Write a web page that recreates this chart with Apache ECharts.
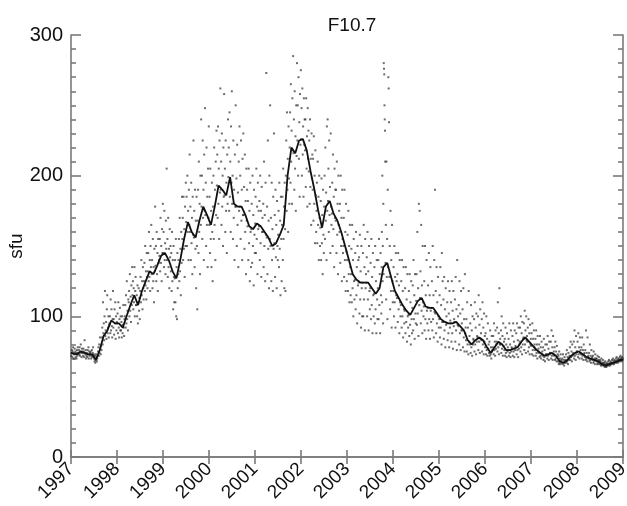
<!DOCTYPE html>
<html><head><meta charset="utf-8">
<script src="https://cdn.jsdelivr.net/npm/echarts@6/dist/echarts.min.js"></script>
<style>html,body{margin:0;padding:0;background:#fff}#c{width:627px;height:506px}</style>
</head><body><div id="c"></div>
<script>
// Smoothed F10.7, monthly (mid-month) values, 1997..2008
const lineYears = [1997,1998,1999,2000,2001,2002,2003,2004,2005,2006,2007,2008];
const line1997 = [74,73,75,74,73,73,69,76,86,90,97,95];
const line1998 = [95,92,100,108,115,108,118,125,132,130,136,143];
const line1999 = [145,140,132,127,140,155,167,160,156,168,178,172];
const line2000 = [165,178,193,190,186,199,180,178,178,172,164,162];
const line2001 = [166,164,160,156,150,152,158,165,200,220,216,225];
const line2002 = [226,218,203,190,175,163,178,182,173,168,160,150];
const line2003 = [140,130,126,124,124,124,120,116,120,135,138,128];
const line2004 = [118,113,108,104,101,106,111,113,107,106,106,102];
const line2005 = [98,96,95,95,96,93,90,83,80,83,85,83];
const line2006 = [78,74,78,82,80,76,76,77,78,82,85,82];
const line2007 = [79,76,74,72,73,74,72,68,67,69,72,74];
const line2008 = [75,73,71,70,69,68,66,65,66,67,68,69];
const lineStart = 74, lineEnd = 69;

// Daily values (sampled), grouped by month
const dots1997 = [[72,74,76,71,75,78,73,70,74,77],[73,75,71,74,70,76,72,78,74,73],[76,73,78,72,75,80,74,71,77,75],[74,72,77,75,71,83,74,73,76,70],[72,74,71,76,73,78,70,75,72,74],[73,75,70,72,76,71,74,78,72,73],[70,68,72,67,69,73,71,68,70,72],[75,78,72,80,74,85,77,73,79,76],[85,92,80,110,88,95,83,100,118,86],[90,96,84,105,115,88,92,100,85,94],[95,100,88,112,90,105,93,85,98,118],[92,98,87,105,95,110,84,100,90,96]];
const dots1998 = [[95,102,88,110,92,85,98,106,90,100],[90,96,85,100,88,94,108,92,86,98],[100,108,92,115,95,125,98,104,90,112],[110,118,100,130,104,114,96,122,108,135],[115,125,105,120,110,135,100,118,128,108],[108,115,100,122,95,110,120,104,113,98],[118,128,110,140,115,125,105,135,120,112],[125,138,118,150,122,132,112,145,128,120],[132,145,125,160,128,140,118,150,135,165],[130,140,120,155,125,135,110,148,132,178],[136,150,125,160,130,145,118,155,138,140],[143,155,132,170,138,150,125,162,145,180]];
const dots1999 = [[145,160,135,175,140,152,130,168,148,205],[140,155,128,170,135,148,120,162,142,150],[132,145,118,160,125,140,105,150,128,110],[127,140,110,155,100,135,98,145,120,130],[140,155,125,170,132,148,115,160,138,185],[155,170,140,185,148,162,128,178,150,195],[167,185,150,200,160,175,140,190,165,215],[160,178,140,195,152,170,130,185,158,225],[156,175,135,190,148,168,120,185,150,105],[168,190,145,210,160,180,130,200,165,240],[178,200,155,225,170,190,140,215,175,248],[172,195,150,220,165,185,135,205,170,235]];
const dots2000 = [[165,185,145,205,155,175,135,195,160,125],[178,200,155,220,165,190,140,210,172,232],[193,215,170,235,180,205,155,225,188,262],[190,210,165,230,178,200,150,220,185,258],[186,205,160,225,175,195,145,215,180,240],[199,220,175,245,185,210,160,235,195,260],[180,200,155,225,170,190,140,215,178,250],[178,198,150,222,165,188,135,210,175,235],[178,200,155,225,168,190,140,212,172,230],[172,192,148,215,160,182,130,205,168,190],[164,182,140,205,152,175,125,195,160,135],[162,180,138,200,150,172,122,190,158,145]];
const dots2001 = [[166,185,145,205,155,178,130,195,162,175],[164,182,140,200,152,175,128,192,160,170],[160,180,135,210,150,172,125,195,158,273],[156,178,130,225,148,168,120,200,155,250],[150,170,125,195,140,162,118,185,148,230],[152,172,128,190,142,165,120,182,150,140],[158,175,135,195,148,168,115,185,155,125],[165,185,140,205,155,178,120,195,162,118],[200,225,175,245,190,212,160,235,198,180],[220,245,195,265,210,232,180,255,218,285],[216,240,190,260,205,228,175,250,214,280],[225,250,200,270,212,238,185,258,222,275]];
const dots2002 = [[226,248,200,262,215,235,185,255,222,240],[218,240,192,255,205,228,178,248,212,232],[203,225,180,240,192,212,165,230,198,215],[190,212,168,228,180,200,152,218,186,160],[175,195,152,210,165,185,140,200,170,150],[163,182,140,198,152,172,130,190,158,145],[178,200,155,220,168,188,140,235,175,240],[182,205,160,225,172,192,145,230,178,165],[173,195,150,215,162,185,135,205,170,190],[168,190,145,210,158,180,130,200,165,175],[160,180,138,200,150,170,125,190,155,145],[150,170,128,190,140,160,118,180,146,125]];
const dots2003 = [[140,158,118,175,130,150,110,165,135,115],[130,148,110,165,120,140,100,155,125,112],[126,145,105,160,115,135,95,150,122,140],[124,142,102,158,112,132,92,150,120,100],[124,145,100,165,112,135,90,155,120,130],[124,142,100,160,112,132,90,150,118,105],[120,138,98,155,108,128,88,145,115,100],[116,135,95,150,105,125,88,140,112,98],[120,140,98,155,108,130,88,145,115,102],[135,160,110,200,125,150,95,180,130,280,276,272,250,240,232,210],[138,165,112,210,128,155,98,190,135,270,262,238],[128,150,105,175,118,140,92,165,125,110]];
const dots2004 = [[118,135,100,150,110,128,92,145,115,125],[113,130,96,145,105,122,88,140,110,100],[108,125,92,140,100,118,85,135,105,95],[104,120,88,135,96,112,82,130,100,92],[101,118,86,130,94,110,80,125,98,88],[106,122,90,140,98,115,84,130,102,95],[111,130,94,160,102,120,86,180,108,175],[113,132,95,165,104,122,88,150,110,100],[107,125,90,150,98,115,84,140,104,95],[106,122,90,145,98,115,84,135,104,96],[106,125,90,150,98,115,85,140,103,190],[102,118,88,135,95,110,82,128,100,92]];
const dots2005 = [[98,115,85,135,92,108,80,145,96,125],[96,112,84,128,90,105,78,120,94,100],[95,110,83,125,88,102,78,118,92,97],[95,110,82,125,88,104,77,118,93,98],[96,112,82,128,90,105,76,140,94,100],[93,108,80,125,88,102,76,118,90,95],[90,105,78,120,85,98,75,130,88,92],[83,98,75,110,80,92,73,118,82,86],[80,95,74,108,78,90,72,100,80,84],[83,98,75,110,80,92,73,102,82,86],[85,100,76,115,82,94,74,105,84,88],[83,98,75,110,80,92,73,102,82,86]];
const dots2006 = [[78,88,73,100,76,84,72,95,77,80],[74,82,72,90,73,78,70,86,75,76],[78,86,73,95,76,82,72,90,77,80],[82,92,75,110,78,88,73,120,80,84],[80,90,74,100,77,86,72,95,79,82],[76,84,72,92,74,80,71,88,75,78],[76,84,72,95,74,80,71,90,75,78],[77,86,72,95,75,82,71,90,76,79],[78,88,73,95,76,83,71,92,77,80],[82,92,75,100,78,88,73,96,80,84],[85,95,76,104,80,90,74,100,83,86],[82,92,75,98,78,88,73,94,80,84]];
const dots2007 = [[79,88,73,95,76,84,72,90,78,80],[76,84,72,90,74,80,70,86,75,77],[74,80,71,86,72,78,70,82,73,75],[72,78,69,84,71,76,68,80,72,73],[73,80,70,86,72,77,69,82,73,74],[74,82,70,90,72,78,69,86,73,75],[72,78,69,82,70,75,68,79,71,73],[68,72,66,75,67,70,66,73,68,69],[67,70,66,73,67,69,65,71,67,68],[69,73,67,76,68,71,66,74,69,70],[72,78,69,82,71,75,68,80,72,73],[74,82,70,90,72,78,69,86,73,75]];
const dots2008 = [[75,82,71,88,73,78,70,85,74,76],[73,78,70,85,72,76,69,80,73,74],[71,76,69,90,70,74,68,85,71,72],[70,74,68,80,69,72,67,76,70,71],[69,72,67,75,68,70,66,73,69,70],[68,70,66,72,67,69,66,71,68,69],[66,68,65,70,66,67,65,69,66,67],[65,67,64,68,65,66,64,67,65,66],[66,68,65,69,66,67,65,68,66,67],[67,69,66,70,67,68,66,69,67,68],[68,70,67,71,68,69,67,70,68,69],[69,71,68,72,69,70,68,71,69,70]];

const yTicks = [0,100,200,300];
const xTicks = [1997,1998,1999,2000,2001,2002,2003,2004,2005,2006,2007,2008,2009];

const lineByYear = [line1997,line1998,line1999,line2000,line2001,line2002,line2003,line2004,line2005,line2006,line2007,line2008];
const dotsByYear = [dots1997,dots1998,dots1999,dots2000,dots2001,dots2002,dots2003,dots2004,dots2005,dots2006,dots2007,dots2008];

const lineData = [[xTicks[0], lineStart]];
lineByYear.forEach((arr, yi) => arr.forEach((v, m) => lineData.push([lineYears[yi] + (m + 0.5) / 12, v])));
lineData.push([xTicks[xTicks.length - 1], lineEnd]);

const dotData = [];
dotsByYear.forEach((months, yi) => months.forEach((vals, m) => {
  vals.forEach((v, i) => dotData.push([lineYears[yi] + (m + (i + 0.5) / vals.length) / 12, v]));
}));

const axisGray = '#7a7a7a';
const fontFam = '"Liberation Sans", Arial, Helvetica, sans-serif';
const chart = echarts.init(document.getElementById('c'), null, {renderer: 'canvas'});
chart.setOption({
  animation: false,
  backgroundColor: '#fff',
  title: {text: 'F10.7', left: 347, top: 11, textAlign: 'center',
    textStyle: {fontSize: 19, fontWeight: 'normal', color: '#111', fontFamily: fontFam}},
  grid: {left: 71, right: 4, top: 35, bottom: 49, containLabel: false, outerBoundsMode: 'none'},
  xAxis: [
    {type: 'value', position: 'bottom', min: 1997, max: 2009, interval: 1,
      axisLine: {show: true, lineStyle: {color: axisGray, width: 1.6}},
      axisTick: {show: true, inside: true, length: 7, lineStyle: {color: axisGray, width: 1.6}},
      splitLine: {show: false},
      axisLabel: {rotate: 45, color: '#111', fontSize: 19, fontFamily: fontFam, margin: 9,
        formatter: v => xTicks.includes(v) ? String(v) : ''}},
    {type: 'value', position: 'top', min: 1997, max: 2009, interval: 1,
      axisLine: {show: true, lineStyle: {color: axisGray, width: 1.6}},
      axisTick: {show: true, inside: true, length: 7, lineStyle: {color: axisGray, width: 1.6}},
      splitLine: {show: false}, axisLabel: {show: false}}
  ],
  yAxis: [
    {type: 'value', position: 'left', min: 0, max: 300, interval: 100,
      name: 'sfu', nameLocation: 'middle', nameGap: 45, nameRotate: 90, nameMoveOverlap: false,
      nameTextStyle: {fontSize: 19, color: '#111', fontFamily: fontFam},
      axisLine: {show: true, lineStyle: {color: axisGray, width: 1.6}},
      axisTick: {show: true, inside: true, length: 10, lineStyle: {color: axisGray, width: 1.6}},
      minorTick: {show: true, splitNumber: 10, length: 5, lineStyle: {color: axisGray, width: 1.6}},
      splitLine: {show: false},
      axisLabel: {color: '#111', fontSize: 20, fontFamily: fontFam, margin: 8,
        formatter: v => yTicks.includes(v) ? String(v) : ''}},
    {type: 'value', position: 'right', min: 0, max: 300, interval: 100,
      axisLine: {show: true, lineStyle: {color: axisGray, width: 1.6}},
      axisTick: {show: true, inside: true, length: 10, lineStyle: {color: axisGray, width: 1.6}},
      minorTick: {show: true, splitNumber: 10, length: 5, lineStyle: {color: axisGray, width: 1.6}},
      splitLine: {show: false}, axisLabel: {show: false}}
  ],
  series: [
    {type: 'scatter', xAxisIndex: 0, yAxisIndex: 0, data: dotData, symbol: 'rect', symbolSize: 2,
      itemStyle: {color: 'rgba(40,40,40,0.85)'}, silent: true, z: 2},
    {type: 'line', xAxisIndex: 0, yAxisIndex: 0, data: lineData, showSymbol: false, symbol: 'none',
      lineStyle: {color: '#111', width: 1.8}, silent: true, z: 3}
  ]
});
</script></body></html>
